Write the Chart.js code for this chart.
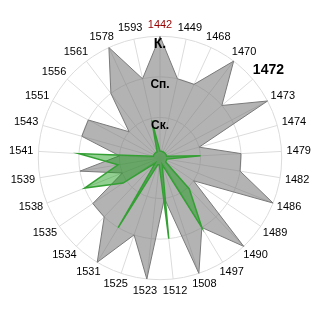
<!DOCTYPE html>
<html>
<head>
<meta charset="utf-8">
<script src="https://cdn.jsdelivr.net/npm/chart.js@4/dist/chart.umd.min.js"></script>
<style>
html,body{margin:0;padding:0;background:#fff;}
#wrap{width:320px;height:320px;}
</style>
</head>
<body>
<div id="wrap"><canvas id="c" width="320" height="320"></canvas></div>
<script>
const categories = ["1442","1449","1468","1470","1472","1473","1474","1479","1482","1486","1489","1490","1497","1508","1512","1523","1525","1531","1534","1535","1538","1539","1541","1543","1551","1556","1561","1578","1593"];
const greyValues = [3,2,2,3,2,3,1,2,2,3,1,3,2,3,1,3,2,3,2,2,1,2,1,2,2,1,2,3,2];
const greenValues = [0.17,0.17,0.17,0.17,0.17,0.17,0.17,1,0.17,0.17,0.17,1.05,2,0.17,2,0.17,0.17,2,0.17,1.1,2,1.05,2,0.17,0.17,0.17,0.17,0.17,0.95];
const tickLabels = ["", "Ск.", "Сп.", "К."];
const tickSizes = [12, 12, 12, 14];
const labelGap = 5;

// Centre each category label on its spoke direction (smooth alignment instead of a hard left/right switch)
const excelLabels = {
  id: 'excelLabels',
  beforeDraw(chart) {
    const s = chart.scales.r;
    const items = s && s._pointLabelItems;
    if (!items) return;
    items.forEach((it, i) => {
      const w = it.right - it.left, h = it.bottom - it.top;
      const a = s.getIndexAngle(i);
      const p = s.getPointPosition(i, s.drawingArea + labelGap);
      const cx = p.x + Math.sin(a) * w / 2;
      const cy = p.y - Math.cos(a) * h / 2;
      it.x = cx; it.textAlign = 'center';
      it.left = cx - w / 2; it.right = cx + w / 2;
      it.top = cy - h / 2; it.y = it.top; it.bottom = cy + h / 2;
    });
  }
};

new Chart(document.getElementById('c'), {
  type: 'radar',
  data: {
    labels: categories,
    datasets: [
      {
        data: greenValues,
        backgroundColor: 'rgba(10,150,10,0.45)',
        borderColor: '#34a034',
        borderWidth: 1.5,
        pointRadius: 0,
        fill: true
      },
      {
        data: greyValues,
        backgroundColor: 'rgba(120,120,120,0.56)',
        borderColor: '#7a7a7a',
        borderWidth: 1,
        pointRadius: 0,
        fill: true
      }
    ]
  },
  options: {
    responsive: false,
    animation: false,
    layout: { padding: { top: 0, bottom: 3, left: 1, right: 1 } },
    plugins: { legend: { display: false }, tooltip: { enabled: false } },
    elements: { line: { tension: 0 } },
    scales: {
      r: {
        min: 0,
        max: 3,
        ticks: {
          z: 1,
          stepSize: 1,
          showLabelBackdrop: false,
          color: '#000',
          font: (ctx) => ({ family: 'Liberation Sans, Arial, sans-serif', weight: 'bold', size: tickSizes[ctx.index] || 12, lineHeight: '8px' }),
          callback: (v) => tickLabels[v] ? ["", tickLabels[v]] : ''
        },
        grid: { circular: true, color: '#dcdcdc', lineWidth: 1 },
        angleLines: { color: '#dcdcdc', lineWidth: 1 },
        pointLabels: {
          padding: labelGap,
          color: (ctx) => ctx.index === 0 ? '#990000' : '#000',
          font: (ctx) => ctx.index === 4
            ? { family: 'Liberation Sans, Arial, sans-serif', size: 14, weight: 'bold' }
            : { family: 'Liberation Sans, Arial, sans-serif', size: 11 }
        }
      }
    }
  },
  plugins: [excelLabels]
});
</script>
</body>
</html>
